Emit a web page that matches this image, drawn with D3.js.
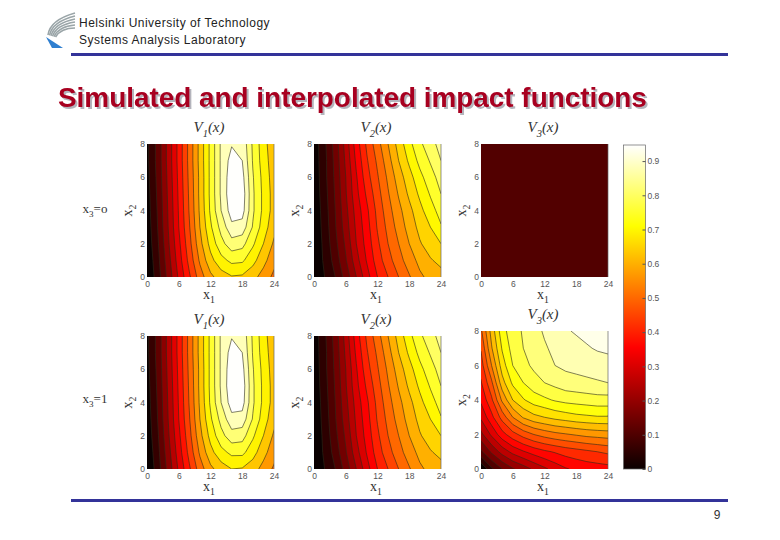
<!DOCTYPE html>
<html>
<head>
<meta charset="utf-8">
<script src="https://cdn.jsdelivr.net/npm/d3@7"></script>
<style>
  html, body { margin: 0; padding: 0; background: #fff; }
  svg { display: block; }
  .tick text { font-family: "Liberation Sans", Arial, sans-serif; font-size: 8.5px; fill: #555; }
  .serif { font-family: "Liberation Serif", "Times New Roman", serif; fill: #333; }
</style>
</head>
<body>
<svg id="chart" width="780" height="540"></svg>
<script>
// simulated grid: x1 along columns, x2 along rows (first row is x2 = 0)
var x1Ticks = [0, 6, 12, 18, 24];
var x2Ticks = [0, 2, 4, 6, 8];
var barTicks = [0, .1, .2, .3, .4, .5, .6, .7, .8, .9];

// each panel was contoured on its own range, so the steps differ
var levelsV1 = [.06, .12, .18, .24, .3, .36, .42, .48, .54, .6, .66, .72, .78, .84, .9];
var levelsV2 = [.05, .1, .15, .2, .25, .3, .35, .4, .45, .5, .55, .6, .65, .7, .75, .8, .85];
var levelsV3 = [.05, .1, .15, .2, .25, .3, .35, .4, .45, .5, .55, .6, .65, .7, .75, .8, .85, .9];
var levelsFlat = [.105];

var v1Top = [
  [.00, .09, .20, .31, .41, .51, .585, .63, .655, .65, .62, .575, .525],
  [.01, .10, .215, .33, .44, .55, .64, .70, .735, .73, .68, .62, .56],
  [.02, .11, .23, .345, .46, .58, .68, .76, .815, .80, .73, .66, .59],
  [.025, .12, .24, .36, .475, .60, .71, .80, .885, .875, .775, .69, .62],
  [.03, .125, .245, .365, .485, .61, .73, .84, .93, .925, .79, .705, .635],
  [.035, .13, .25, .37, .49, .615, .735, .85, .945, .935, .79, .705, .635],
  [.04, .135, .255, .375, .495, .615, .735, .85, .94, .92, .785, .70, .63],
  [.045, .14, .26, .38, .50, .62, .735, .85, .925, .90, .775, .69, .625],
  [.045, .14, .26, .38, .50, .62, .735, .85, .895, .885, .77, .685, .615]
];
var v2Top = [
  [.00, .05, .10, .17, .25, .33, .40, .45, .50, .545, .59, .615, .63],
  [.005, .06, .12, .195, .28, .355, .425, .48, .53, .575, .615, .645, .665],
  [.005, .065, .135, .21, .30, .37, .44, .50, .55, .60, .645, .675, .70],
  [.01, .07, .145, .225, .31, .38, .455, .515, .57, .62, .665, .70, .745],
  [.01, .075, .15, .235, .32, .39, .465, .53, .585, .635, .685, .73, .77],
  [.015, .08, .155, .245, .335, .41, .48, .545, .605, .66, .71, .755, .80],
  [.015, .085, .16, .25, .345, .43, .495, .56, .625, .68, .735, .78, .82],
  [.02, .085, .165, .26, .36, .445, .51, .58, .65, .71, .765, .805, .85],
  [.02, .09, .17, .27, .375, .46, .53, .60, .67, .735, .79, .83, .87]
];
var v3Top = [
  [.105, .105],
  [.105, .105]
];
var v1Bottom = [
  [.00, .09, .20, .31, .41, .51, .585, .63, .66, .655, .625, .58, .53],
  [.01, .10, .215, .33, .44, .55, .64, .70, .735, .735, .685, .62, .565],
  [.02, .11, .23, .345, .46, .58, .68, .76, .815, .805, .73, .66, .59],
  [.025, .12, .24, .36, .475, .60, .71, .80, .88, .875, .775, .69, .62],
  [.03, .125, .245, .365, .485, .61, .73, .84, .93, .925, .79, .705, .635],
  [.035, .13, .25, .37, .49, .615, .735, .85, .945, .935, .79, .705, .635],
  [.04, .135, .255, .375, .495, .615, .735, .85, .94, .92, .785, .70, .63],
  [.045, .14, .26, .38, .50, .62, .735, .85, .925, .90, .775, .69, .625],
  [.045, .14, .26, .38, .50, .62, .735, .85, .895, .885, .77, .685, .615]
];
var v2Bottom = v2Top;
var v3Bottom = [
  [.00, .09, .15, .195, .225, .26, .29, .32, .345, .36, .37, .375, .38],
  [.14, .21, .27, .315, .345, .37, .39, .405, .42, .43, .44, .45, .46],
  [.235, .31, .38, .43, .47, .50, .52, .535, .545, .555, .565, .57, .575],
  [.31, .385, .47, .55, .605, .635, .65, .665, .675, .685, .69, .695, .695],
  [.36, .44, .56, .65, .695, .725, .74, .755, .765, .77, .775, .78, .78],
  [.395, .49, .63, .71, .75, .78, .80, .815, .83, .835, .84, .845, .85],
  [.425, .55, .675, .75, .785, .81, .83, .85, .86, .865, .87, .875, .88],
  [.455, .595, .705, .77, .80, .825, .845, .86, .875, .885, .895, .905, .91],
  [.49, .62, .73, .78, .805, .835, .855, .875, .895, .905, .915, .925, .93]
];

var svg = d3.select("#chart");

// matlab "hot" map, top of the bar is about .947
var hot = d3.scaleLinear()
  .domain([0, .355, .71, .947])
  .range(["#0a0000", "#ff0000", "#ffff00", "#ffffff"])
  .clamp(true);

// ---- slide furniture
var logo = svg.append("g");
logo.append("path")
  .attr("d", "M46,37 L63,48 L52,48 Z")
  .attr("fill", "#2f7fd0");
d3.range(0, 6).forEach(function(i) {
  logo.append("path")
    .attr("d", "M" + (48 + i * 1.5) + "," + (35 + i * .4) + " Q" + (50 + i * 2.2) + "," + (20 + i * 1.6) + " " + 75 + "," + (13 + i * 3))
    .attr("fill", "none")
    .attr("stroke", "#9aa5a8")
    .attr("stroke-width", 1.6);
});

var head = svg.append("g")
  .style("font-family", "'Liberation Sans', Arial, sans-serif")
  .style("font-size", "12px")
  .style("letter-spacing", ".48px")
  .attr("fill", "#222");
head.append("text").attr("x", 79).attr("y", 27).text("Helsinki University of Technology");
head.append("text").attr("x", 79).attr("y", 44).text("Systems Analysis Laboratory");

svg.append("rect").attr("x", 71).attr("y", 53).attr("width", 657).attr("height", 3).attr("fill", "#333399");
svg.append("rect").attr("x", 71).attr("y", 499).attr("width", 657).attr("height", 3).attr("fill", "#333399");

svg.append("text")
  .attr("x", 58).attr("y", 107)
  .attr("fill", "#a80020")
  .style("font-family", "'Liberation Sans', Arial, sans-serif")
  .style("font-weight", "bold")
  .style("font-size", "27.9px")
  .style("filter", "drop-shadow(2px 2px 0 #b4b4bc)")
  .text("Simulated and interpolated impact functions");

svg.append("text")
  .attr("x", 717).attr("y", 519)
  .attr("text-anchor", "middle")
  .attr("fill", "#333")
  .style("font-family", "'Liberation Sans', Arial, sans-serif")
  .style("font-size", "12px")
  .text("9");

// text with a small subscript, optional tail after it
function subLabel(parent, x, y, size, italic, base, sub, tail) {
  var t = parent.append("text")
    .attr("class", "serif")
    .attr("x", x).attr("y", y)
    .attr("text-anchor", "middle")
    .style("font-size", size + "px")
    .style("font-style", italic ? "italic" : "normal");
  t.append("tspan").text(base);
  t.append("tspan").attr("dy", size * .3).style("font-size", (size * .7) + "px").text(sub);
  if (tail) t.append("tspan").attr("dy", -size * .3).text(tail);
  return t;
}

// ---- contour panels
function drawPanel(p, i) {
  var w = 127, h = p.bottom - p.top;
  var g = svg.append("g").attr("transform", "translate(" + p.left + "," + p.top + ")");
  var rows = p.grid.length, cols = p.grid[0].length;

  // sample i sits at i+.5 in contour space
  var cx = d3.scaleLinear().domain([.5, cols - .5]).range([0, w]);
  var cy = d3.scaleLinear().domain([.5, rows - .5]).range([h, 0]);
  var path = d3.geoPath(d3.geoTransform({
    point: function(a, b) { this.stream.point(cx(a), cy(b)); }
  }));

  svg.append("clipPath").attr("id", "clip" + i)
    .append("rect").attr("width", w).attr("height", h);
  var plot = g.append("g").attr("clip-path", "url(#clip" + i + ")");

  var bands = d3.contours().size([cols, rows]).smooth(true).thresholds(p.levels)(d3.merge(p.grid));

  // contourf style: a band takes the colour of its lower level
  plot.append("rect").attr("width", w).attr("height", h).attr("fill", hot(0));
  plot.selectAll("path.band")
    .data(bands)
    .join("path")
    .attr("class", "band")
    .attr("d", path)
    .attr("fill", function(d) { return hot(d.value * p.gain); })
    .attr("stroke", "#2a2a1a")
    .attr("stroke-width", .7)
    .attr("stroke-opacity", .85);

  var x = d3.scaleLinear().domain([0, 24]).range([0, w]);
  var y = d3.scaleLinear().domain([0, 8]).range([h, 0]);
  g.append("g").attr("transform", "translate(0," + h + ")")
    .call(d3.axisBottom(x).tickValues(x1Ticks).tickFormat(d3.format("d")).tickSize(0).tickPadding(4))
    .call(function(a) { a.select(".domain").remove(); });
  g.append("g")
    .call(d3.axisLeft(y).tickValues(x2Ticks).tickFormat(d3.format("d")).tickSize(0).tickPadding(2))
    .call(function(a) { a.select(".domain").remove(); });

  // right edge of the box is the only side that shows
  g.append("line")
    .attr("x1", w).attr("x2", w).attr("y1", 0).attr("y2", h)
    .attr("stroke", "#666").attr("stroke-width", .7);

  subLabel(svg, p.left + 62, p.titleY, 15, true, "V", p.sub, "(x)");
  subLabel(svg, p.left + 62, p.bottom + 22, 14, false, "x", "1");
  subLabel(svg, 0, 0, 14, false, "x", "2")
    .attr("x", null).attr("y", null)
    .attr("transform", "translate(" + (p.left - 15) + "," + (p.top + h / 2) + ") rotate(-90)");
}

var panels = [
  { grid: v1Top, levels: levelsV1, gain: 1.05, sub: "1", left: 147, top: 144, bottom: 277, titleY: 132 },
  { grid: v2Top, levels: levelsV2, gain: 1, sub: "2", left: 314, top: 144, bottom: 277, titleY: 132 },
  { grid: v3Top, levels: levelsFlat, gain: 1, sub: "3", left: 481, top: 144, bottom: 277, titleY: 132 },
  { grid: v1Bottom, levels: levelsV1, gain: 1.05, sub: "1", left: 147, top: 336, bottom: 469, titleY: 324 },
  { grid: v2Bottom, levels: levelsV2, gain: 1, sub: "2", left: 314, top: 336, bottom: 469, titleY: 324 },
  { grid: v3Bottom, levels: levelsV3, gain: 1.03, sub: "3", left: 481, top: 331, bottom: 469, titleY: 319 }
];
panels.forEach(drawPanel);

subLabel(svg, 95, 213, 13, false, "x", "3", "=o");
subLabel(svg, 95, 403, 13, false, "x", "3", "=1");

// ---- colour bar
var barY = d3.scaleLinear().domain([0, .947]).range([469, 145]);
var grad = svg.append("defs").append("linearGradient")
  .attr("id", "hotbar")
  .attr("x1", 0).attr("x2", 0).attr("y1", 1).attr("y2", 0);
grad.selectAll("stop")
  .data(hot.domain())
  .join("stop")
  .attr("offset", function(d) { return d / .947; })
  .attr("stop-color", function(d) { return hot(d); });

svg.append("rect")
  .attr("x", 623.5).attr("y", 145).attr("width", 22).attr("height", 324)
  .attr("fill", "url(#hotbar)")
  .attr("stroke", "#666").attr("stroke-width", .7);

svg.append("g").attr("transform", "translate(645.5,0)")
  .call(d3.axisRight(barY).tickValues(barTicks).tickFormat(function(d) { return d === 0 ? "0" : d3.format(".1f")(d); }).tickSizeInner(-3).tickSizeOuter(0).tickPadding(2))
  .call(function(a) {
    a.select(".domain").remove();
    a.selectAll(".tick line").attr("stroke", "#555");
  });
</script>
</body>
</html>
